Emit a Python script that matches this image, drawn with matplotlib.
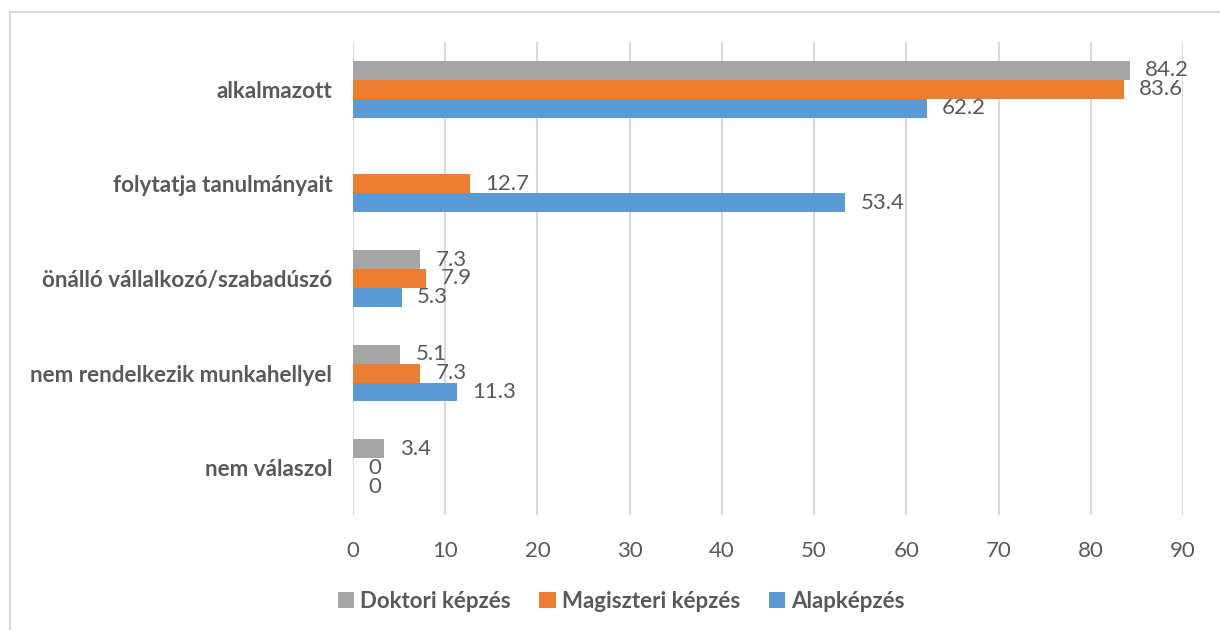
import matplotlib.pyplot as plt
import numpy as np
from matplotlib.patches import Rectangle

plt.rcParams['font.family'] = ['Lato', 'DejaVu Sans']

categories = ["alkalmazott", "folytatja tanulmányait", "önálló vállalkozó/szabadúszó",
              "nem rendelkezik munkahellyel", "nem válaszol"]
doktori = [84.2, np.nan, 7.3, 5.1, 3.4]
magiszteri = [83.6, 12.7, 7.9, 7.3, 0]
alap = [62.2, 53.4, 5.3, 11.3, 0]
series_names = ["Doktori képzés", "Magiszteri képzés", "Alapképzés"]
colors = ["#A5A5A5", "#ED7D31", "#5B9BD5"]
xticks = np.arange(0, 100, 10)

text_col = "#595959"

fig = plt.figure(figsize=(12.2, 6.3), dpi=100)
ax = fig.add_axes([353 / 1220, 1 - 515 / 630, 830 / 1220, 473 / 630])

# outer chart frame (only top and left visible in crop)
fig.patches.append(Rectangle((10 / 1220, -0.1), 1.2, 1 - 12 / 630 + 0.1, transform=fig.transFigure,
                             fill=False, edgecolor="#D9D9D9", linewidth=1.5))

y = np.arange(len(categories))
h = 0.2
bars = []
for i, (vals, name, c) in enumerate(zip([doktori, magiszteri, alap], series_names, colors)):
    pos = y + (i - 1) * h
    b = ax.barh(pos, vals, height=h, color=c, label=name, zorder=3)
    bars.append(b)
    for p, v in zip(pos, vals):
        if np.isnan(v):
            continue
        ax.annotate(f"{v:g}", (v, p), xytext=(11, 0), textcoords="offset points",
                    va="center", ha="left", fontsize=16, color=text_col)

ax.set_ylim(len(categories) - 0.5, -0.5)
ax.set_xlim(0, 90)
ax.set_xticks(xticks)
ax.set_yticks(y)
ax.set_yticklabels(categories, fontsize=16.2, fontweight="bold", color=text_col)
ax.tick_params(axis="x", length=0, pad=19, labelsize=16, labelcolor=text_col)
ax.tick_params(axis="y", length=0, pad=15)
ax.grid(axis="x", color="#D9D9D9", linewidth=1.5, zorder=0)
for s in ax.spines.values():
    s.set_visible(False)

fig.legend(handles=bars, labels=series_names, loc="center", bbox_to_anchor=(621 / 1220, 1 - 601 / 630),
           ncol=3, frameon=False, prop={"size": 16, "weight": "bold"}, labelcolor=text_col,
           handlelength=0.75, handleheight=0.75, handletextpad=0.25, columnspacing=1.3)

fig.savefig("out.png", dpi=100)
